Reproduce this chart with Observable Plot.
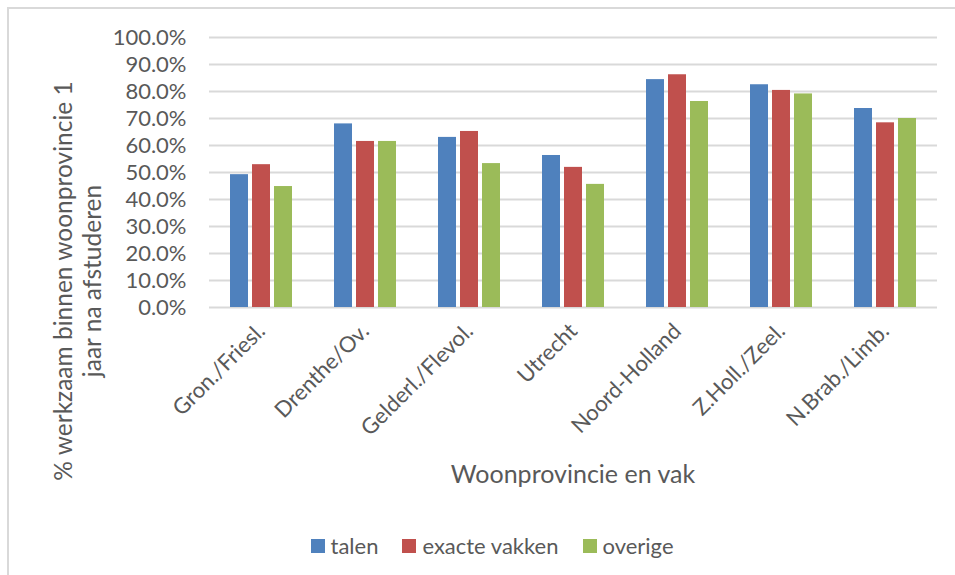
<!DOCTYPE html>
<html>
<head>
<meta charset="utf-8">
<script src="https://cdn.jsdelivr.net/npm/d3@7"></script>
<script src="https://cdn.jsdelivr.net/npm/@observablehq/plot@0.6"></script>
<style>
  body { margin: 0; background: #fff; }
  #wrap { position: relative; width: 955px; height: 575px; overflow: hidden; font-family: Lato, sans-serif; color: #595959; }
  #border { position: absolute; left: 7px; top: 7px; width: 1200px; height: 1200px; border: 2px solid #d9d9d9; box-sizing: border-box; }
  #chart { position: absolute; left: 0; top: 0; }
  #ylab { position: absolute; left: -172px; top: 251px; width: 500px; height: 60px; line-height: 29px; font-size: 24.5px; text-align: center; transform: rotate(-90deg); transform-origin: 250px 30px; white-space: nowrap; }
  #xlab { position: absolute; left: 0; width: 1146px; top: 458px; text-align: center; font-size: 25px; }
  #legend { position: absolute; left: 0; top: 532px; width: 984px; display: flex; justify-content: center; font-size: 22px; }
  .item { display: flex; align-items: center; margin: 0 12px; }
  .sw { width: 14px; height: 14px; margin-right: 6px; }
</style>
</head>
<body>
<div id="wrap">
  <div id="border"></div>
  <div id="chart"></div>
  <div id="ylab">% werkzaam binnen woonprovincie 1<br>jaar na afstuderen</div>
  <div id="xlab">Woonprovincie en vak</div>
  <div id="legend"></div>
</div>
<script>
const categories = ["Gron./Friesl.", "Drenthe/Ov.", "Gelderl./Flevol.", "Utrecht", "Noord-Holland", "Z.Holl./Zeel.", "N.Brab./Limb."];
const series = ["talen", "exacte vakken", "overige"];
const talen   = [0.492, 0.680, 0.630, 0.563, 0.844, 0.825, 0.737];
const exacte  = [0.529, 0.615, 0.652, 0.519, 0.862, 0.804, 0.684];
const overige = [0.448, 0.615, 0.533, 0.456, 0.763, 0.791, 0.700];
const yTicks = [0, 0.1, 0.2, 0.3, 0.4, 0.5, 0.6, 0.7, 0.8, 0.9, 1.0];
const colors = ["#4F81BD", "#C0504D", "#9BBB59"];

const valuesBySeries = [talen, exacte, overige];
const rows = [];
categories.forEach((c, i) => {
  series.forEach((s, j) => rows.push({category: c, series: s, value: valuesBySeries[j][i]}));
});

const chart = Plot.plot({
  width: 955,
  height: 520,
  marginLeft: 208,
  marginRight: 17,
  marginTop: 37,
  marginBottom: 213,
  style: {fontFamily: "Lato, sans-serif", fontSize: "22px", color: "#595959", background: "transparent", overflow: "visible"},
  fx: {domain: categories, padding: 0, label: null},
  x: {domain: series, paddingInner: 0.2, paddingOuter: 0.918, axis: null},
  y: {domain: [0, 1], label: null},
  color: {domain: series, range: colors},
  marks: [
    Plot.gridY(yTicks, {stroke: "#d9d9d9", strokeOpacity: 1, strokeWidth: 2}),
    Plot.barY(rows, {fx: "category", x: "series", y: "value", fill: "series"}),
    Plot.axisY(yTicks, {tickSize: 0, tickPadding: 23, tickFormat: d3.format(".1%"), label: null, fill: "#595959"}),
    Plot.axisFx({anchor: "bottom", tickRotate: -45, tickSize: 0, tickPadding: 20, label: null, fill: "#595959"})
  ]
});
document.getElementById("chart").appendChild(chart);

const legend = document.getElementById("legend");
series.forEach((s, j) => {
  const it = document.createElement("div");
  it.className = "item";
  const sw = document.createElement("div");
  sw.className = "sw";
  sw.style.background = colors[j];
  const t = document.createElement("span");
  t.textContent = s;
  it.appendChild(sw); it.appendChild(t);
  legend.appendChild(it);
});
</script>
</body>
</html>
